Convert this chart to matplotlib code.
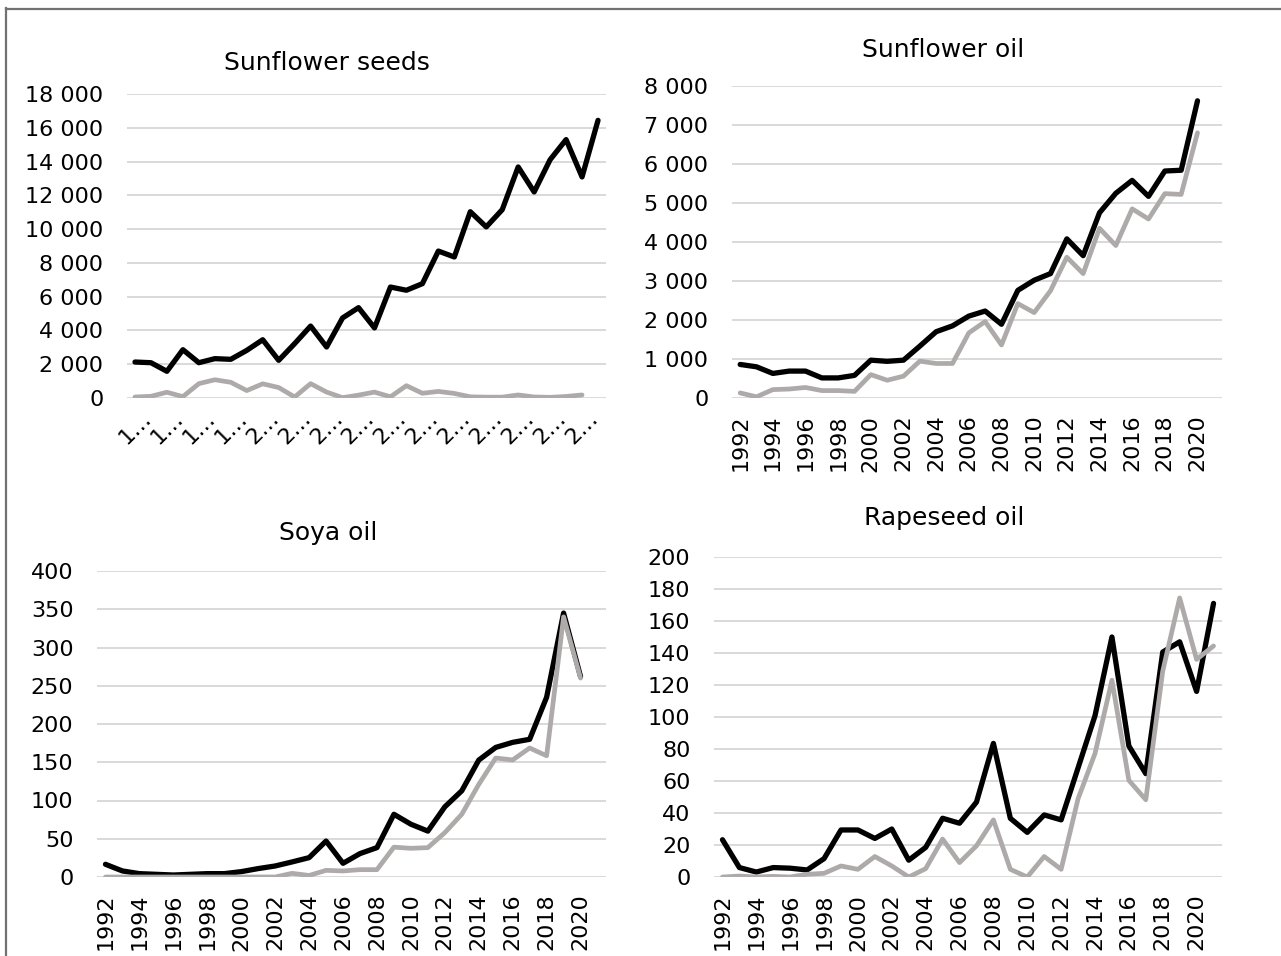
import numpy as np
import matplotlib
matplotlib.use('Agg')
import matplotlib.pyplot as plt
from matplotlib.ticker import MultipleLocator, FuncFormatter, FixedLocator
from matplotlib.lines import Line2D

# Données (1992 - 2021)
years = list(range(1992, 2022))

seeds_black = [2130, 2090, 1580, 2860, 2090, 2330, 2290, 2820, 3450, 2230,
               3220, 4260, 3020, 4740, 5350, 4150, 6570, 6380, 6770, 8700,
               8350, 11030, 10130, 11150, 13680, 12200, 14110, 15300, 13090, 16440]
seeds_grey = [60, 100, 340, 80, 850, 1080, 930, 440, 840, 620,
              60, 850, 350, 20, 170, 350, 70, 730, 280, 390,
              270, 70, 50, 50, 180, 60, 40, 90, 180, None]

oil_black = [860, 800, 630, 690, 690, 515, 515, 580, 970, 940,
             970, 1330, 1700, 1850, 2100, 2230, 1890, 2760, 3020, 3190,
             4080, 3650, 4750, 5250, 5580, 5170, 5820, 5840, 7620, None]
oil_grey = [130, 30, 215, 230, 270, 190, 190, 170, 600, 455,
            560, 945, 885, 885, 1670, 1960, 1360, 2420, 2190, 2750,
            3610, 3190, 4350, 3910, 4850, 4590, 5240, 5220, 6800, None]

soya_black = [16.6, 7.9, 4.4, 3.5, 2.6, 3.5, 4.4, 4.4, 7, 11,
              14.4, 19.7, 25.3, 47, 17.9, 30.6, 38.4, 82, 69, 60,
              91.7, 112.7, 152.8, 169.4, 176, 180, 235, 345, 262, None]
soya_grey = [0, 0, 0, 0, 0, 0, 0, 0, 0, 0,
             0, 4.8, 2, 8.7, 7.9, 9.6, 9.6, 39, 37.5, 38.4,
             58, 82, 121, 155.5, 153, 168.6, 158.5, 340, 260, None]

rape_black = [23.3, 5.9, 3.1, 5.9, 5.5, 4.4, 11.5, 29.4, 29.4, 24.1,
              30, 10.5, 18.5, 36.7, 33.6, 46.8, 83.5, 36.7, 27.9, 38.8,
              35.7, 68.2, 100.8, 150, 81.9, 64.6, 140.6, 147, 116, 171]
rape_grey = [0, 0.6, 0, 0.4, 0, 1.7, 2.3, 6.9, 4.8, 12.8,
             6.9, 0, 5.2, 23.7, 9, 19.5, 35.7, 4.8, 0, 12.8,
             4.8, 48.9, 77.2, 123, 60.4, 48.3, 128.7, 174.4, 136, 144.4]

titles = ['Sunflower seeds', 'Sunflower oil', 'Soya oil', 'Rapeseed oil']

W, H = 1281, 956
fig = plt.figure(figsize=(W / 100, H / 100), dpi=100)
plt.rcParams['font.family'] = ['DejaVu Sans']

def pix(x0, x1, ytop, ybot):
    return [x0 / W, 1 - ybot / H, (x1 - x0) / W, (ybot - ytop) / H]

def space_fmt(v, pos):
    return '{:,.0f}'.format(v).replace(',', ' ')

# cadre gris autour de la figure
fig.add_artist(Line2D([6 / W, 6 / W], [0, 1 - 8 / H], color='#767171', lw=1.6))
fig.add_artist(Line2D([6 / W, 1], [1 - 9 / H, 1 - 9 / H], color='#767171', lw=1.6))

def panel(rect, black, grey, ymax, ystep, title, tx, ty, short_labels=False):
    ax = fig.add_axes(pix(*rect))
    x = np.arange(len(years))
    b = np.array([np.nan if v is None else v for v in black], dtype=float)
    g = np.array([np.nan if v is None else v for v in grey], dtype=float)
    ax.plot(x, b, color='black', lw=3.8, solid_joinstyle='round', solid_capstyle='round', zorder=3)
    ax.plot(x, g, color='#AEAAAA', lw=3.4, solid_joinstyle='round', solid_capstyle='round', zorder=4)
    ax.set_xlim(-0.5, len(years) - 0.5)
    ax.set_ylim(0, ymax)
    ax.yaxis.set_major_locator(MultipleLocator(ystep))
    ax.yaxis.set_major_formatter(FuncFormatter(space_fmt))
    ax.grid(axis='y', color='#D9D9D9', lw=1.4)
    ax.set_axisbelow(True)
    for s in ax.spines.values():
        s.set_visible(False)
    ax.tick_params(axis='y', length=0, pad=17, labelsize=16)
    ticks = x[::2][:15]
    ax.xaxis.set_major_locator(FixedLocator(ticks))
    if short_labels:
        labs = [str(years[i])[0] + '\u2026' for i in ticks]
        ax.set_xticklabels(labs, rotation=45, ha='center', va='top', fontsize=16)
        ax.tick_params(axis='x', length=0, pad=7)
    else:
        labs = [str(years[i]) for i in ticks]
        ax.set_xticklabels(labs, rotation=90, ha='center', va='top', fontsize=16)
        ax.tick_params(axis='x', length=0, pad=12)
    fig.text(tx / W, 1 - ty / H, title, fontsize=18, ha='center', va='center')
    return ax

panel((127, 606, 94, 398), seeds_black, seeds_grey, 18000, 2000, titles[0], 327, 63, True)
panel((732, 1222, 86, 398), oil_black, oil_grey, 8000, 1000, titles[1], 943, 50)
panel((97, 606, 571, 877), soya_black, soya_grey, 400, 50, titles[2], 328, 533)
panel((714, 1222, 557, 877), rape_black, rape_grey, 200, 20, titles[3], 944, 518)

plt.savefig('out.png', dpi=100)
